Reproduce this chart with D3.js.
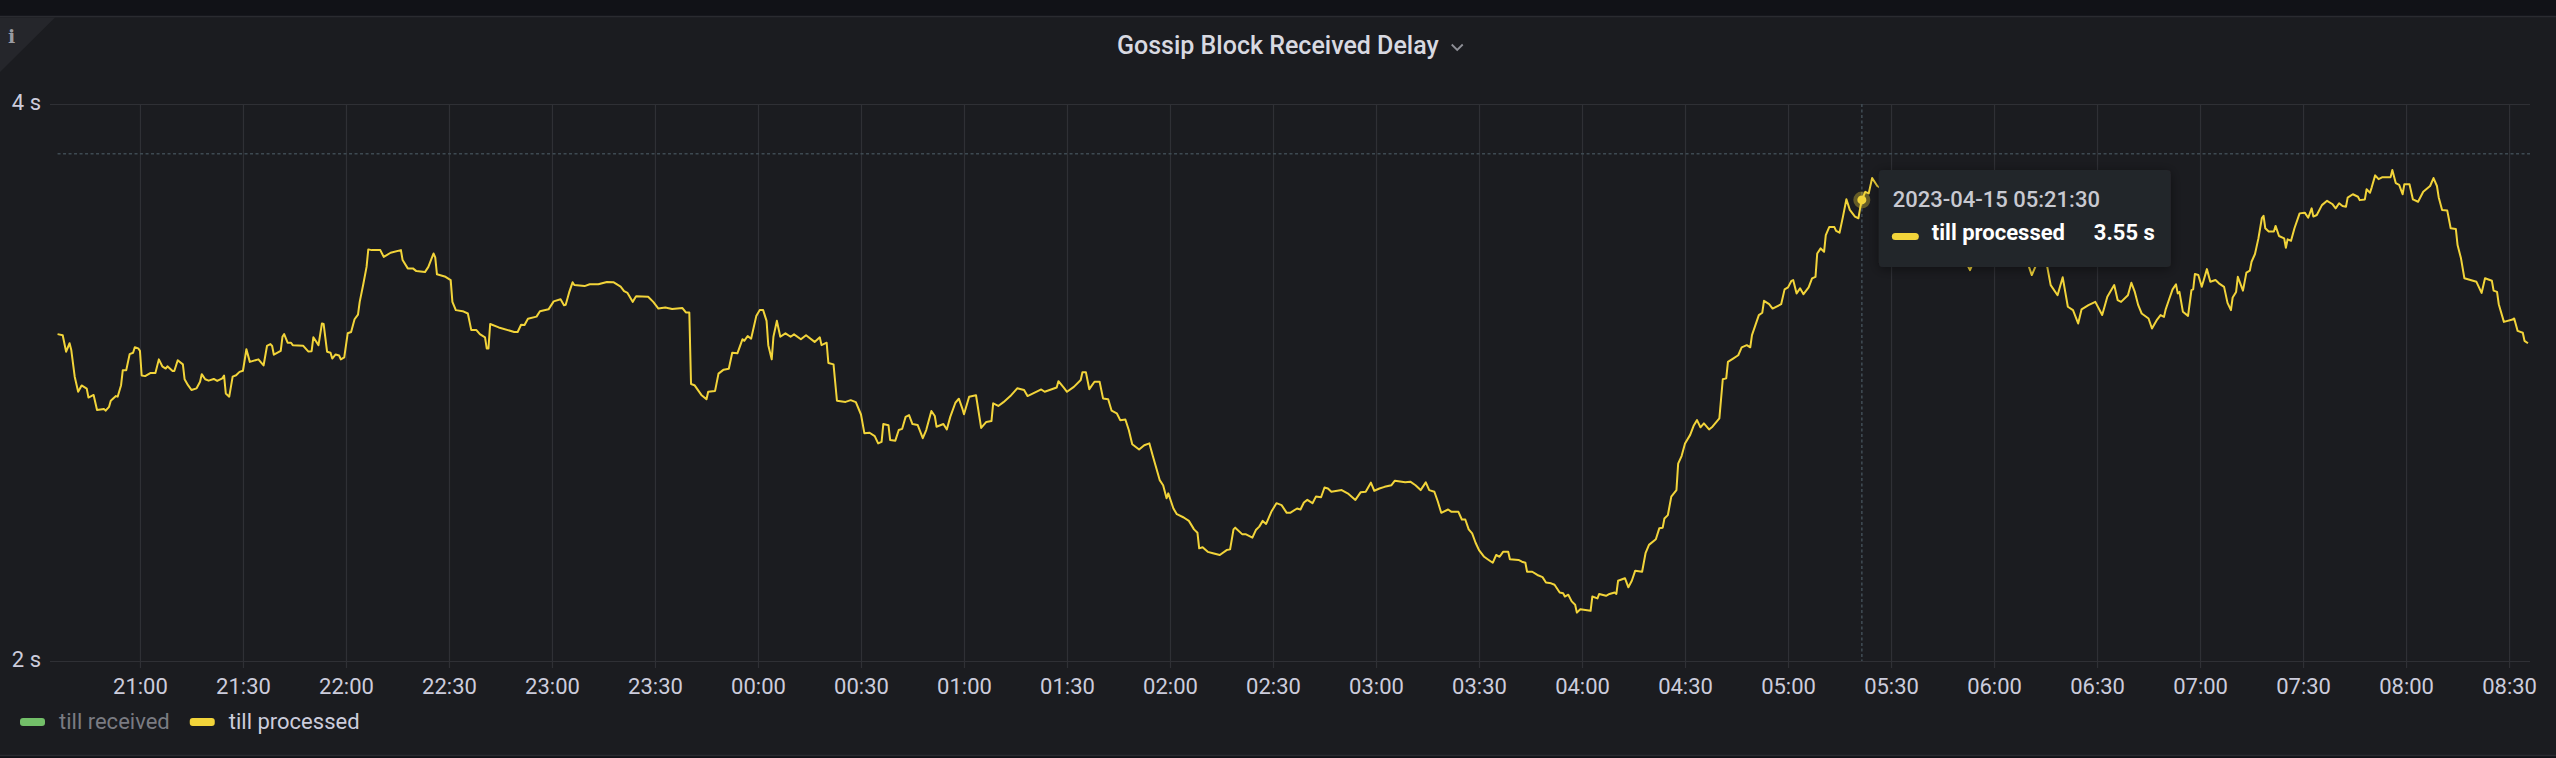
<!DOCTYPE html>
<html>
<head>
<meta charset="utf-8">
<title>Gossip Block Received Delay</title>
<script src="https://cdn.jsdelivr.net/npm/d3@7"></script>
<style>
    html, body { margin: 0; padding: 0; background: #111217; }
    svg { display: block; }
    text { font-family: Roboto, "Noto Sans", sans-serif; }
</style>
</head>
<body>
<svg id="chart" width="2556" height="758"></svg>
<script>
// ---- data ----
var panelTitle = 'Gossip Block Received Delay';
var seriesNames = ['till received', 'till processed'];
var hiddenSeries = ['till received'];
var unitSuffix = ' s';

// minutes are counted from 2023-04-14 20:30 (local dashboard time)
var rangeStart = new Date(2023, 3, 14, 20, 30);
var rangeMinutes = [3.8, 726.1];
var yTicks = [2, 4];

var sampleMinutes = [
    6, 7.5, 8.5, 9.5, 10, 11, 12, 13, 14.5, 15,
    16.5, 17.5, 19.5, 20, 21, 21.5, 23, 23.5, 24.5, 25,
    26, 27, 28, 28.5, 29.5, 30, 30.5, 31.5, 33, 34.5,
    35.5, 36.5, 37.5, 38, 39.5, 40, 41, 42.5, 43, 44,
    45, 46.5, 47.5, 48, 49, 50, 51.5, 52.5, 54, 54.5,
    55, 56, 57, 58, 59, 60, 61, 62, 64.5, 66,
    67, 68, 68.5, 69, 71, 71.5, 72, 73, 74, 74.5,
    77.5, 79, 80, 80.5, 82, 83, 83.5, 84.5, 85.5, 86,
    87, 88, 88.5, 89.5, 90.5, 91.5, 92.5, 93.5, 94, 95,
    96, 96.5, 97.5, 100, 101, 103, 106, 106.5, 108, 109.5,
    110.5, 113, 114, 115.5, 116, 116.5, 119, 120.5, 121, 122,
    124, 125.5, 126.5, 128, 129, 130.5, 131, 131.5, 132, 134.5,
    139, 140, 141, 142, 143, 145.5, 146.5, 149, 150.5, 152.5,
    153.5, 154, 155, 156, 156.5, 159.5, 161, 163.5, 166, 168,
    170, 171, 172, 173.5, 174.5, 178, 179.5, 181, 183, 185,
    188, 189, 190, 190.5, 191.5, 193.5, 195, 195.5, 197.5, 198.5,
    200, 201.5, 202.5, 204, 205.5, 206, 207, 208, 209.5, 210.5,
    211.5, 212.5, 213, 214, 214.5, 215.5, 216.5, 218, 219.5, 220.5,
    222.5, 224, 226.5, 228, 228.5, 230, 230.5, 232, 233, 235.5,
    237, 238.5, 240, 241, 242.5, 244, 245, 246, 246.5, 248,
    248.5, 250, 251, 252, 253, 254, 255, 256.5, 258, 259,
    260.5, 261.5, 262, 264, 265, 266, 267.5, 268.5, 269.5, 270,
    271.5, 273.5, 275, 276.5, 278, 278.5, 280, 281.5, 283.5, 285.5,
    287.5, 288.5, 292.5, 293.5, 297, 297.5, 299, 300, 302, 304,
    304.5, 305.5, 306.5, 308, 309.5, 310.5, 312, 313, 314.5, 315.5,
    317, 318, 319, 321, 322.5, 324, 325, 327, 328, 329,
    329.5, 331, 332, 334, 335.5, 337, 338, 338.5, 339.5, 341,
    342.5, 344.5, 346.5, 347.5, 348.5, 349, 351, 352, 354, 355,
    356, 357, 358, 359.5, 361, 362.5, 364, 365, 367, 368,
    369, 370, 371.5, 372.5, 374, 375, 376, 377, 380, 382,
    384, 385.5, 387, 388.5, 389.5, 391, 392.5, 394.5, 395.5, 398.5,
    400, 401.5, 403, 404.5, 405.5, 407, 408, 409, 411, 412,
    414, 415, 416, 417, 418, 419, 420, 421.5, 422.5, 424,
    425, 426, 427, 428.5, 429, 431.5, 432.5, 433.5, 434, 435.5,
    437, 438.5, 439.5, 441, 442, 443.5, 444.5, 445, 446, 447,
    448, 448.5, 449.5, 451, 452.5, 453, 454.5, 455, 457, 458,
    459.5, 460, 460.5, 462.5, 463.5, 464.5, 465.5, 467.5, 468.5, 469.5,
    471.5, 472.5, 473.5, 474, 475, 476, 477.5, 478, 479, 480,
    481.5, 482.5, 483.5, 484.5, 485.5, 487, 488, 490, 491, 492,
    492.5, 494, 495.5, 496.5, 498, 499, 499.5, 500.5, 501.5, 502.5,
    503, 504.5, 505.5, 508, 509, 510, 511, 511.5, 512.5, 513.5,
    514.5, 516, 517, 518, 518.5, 519.5, 520.5, 521, 522, 523.5,
    524, 525, 526, 527, 528, 529.5, 530.5, 531, 531.5, 532.5,
    533.5, 534.5, 536, 537, 539.5, 542.5, 547, 551.5, 555.5, 560,
    563, 565.5, 570.5, 574.5, 579, 581, 583.5, 585.5, 586.5, 588.5,
    590, 591.5, 593, 594.5, 595.5, 597.5, 599.5, 601.5, 603, 605,
    606, 607, 609, 610, 611, 612, 613, 615, 616, 617.5,
    618.5, 619.5, 620, 621, 622, 623, 623.5, 624, 625, 626.5,
    627.5, 628, 628.5, 629.5, 630.5, 631, 632, 633, 634.5, 635.5,
    637, 638, 639, 639.5, 640.5, 641, 642.5, 643.5, 644.5, 645,
    646, 647, 648, 648.5, 649, 650, 651.5, 652, 653, 654.5,
    655, 655.5, 656.5, 657.5, 659, 660.5, 661.5, 662.5, 663, 664,
    665.5, 667, 668.5, 669.5, 670.5, 671.5, 672.5, 673, 674.5, 676,
    676.5, 678, 678.5, 679.5, 680, 681, 682, 683, 685.5, 686,
    687, 688, 689, 689.5, 691, 692, 693.5, 695, 697, 698,
    699, 699.5, 700.5, 702, 703, 704.5, 705, 706, 707, 708,
    710.5, 712, 713, 715, 715.5, 716.5, 717, 718.5, 721, 721.5,
    722.5, 724, 724.5, 725.5
];

var tillProcessed = [
    3.004, 3.000, 2.939, 2.970, 2.945, 2.849, 2.796, 2.818, 2.807, 2.776,
    2.785, 2.733, 2.737, 2.731, 2.744, 2.765, 2.781, 2.779, 2.819, 2.872,
    2.872, 2.930, 2.935, 2.955, 2.951, 2.942, 2.853, 2.851, 2.862, 2.862,
    2.911, 2.886, 2.878, 2.886, 2.869, 2.869, 2.908, 2.893, 2.840, 2.819,
    2.802, 2.808, 2.831, 2.858, 2.840, 2.835, 2.841, 2.834, 2.843, 2.853,
    2.790, 2.779, 2.849, 2.854, 2.866, 2.870, 2.948, 2.902, 2.911, 2.889,
    2.960, 2.967, 2.960, 2.928, 2.942, 2.994, 3.004, 2.972, 2.972, 2.963,
    2.961, 2.940, 2.941, 2.992, 2.963, 3.044, 3.042, 2.939, 2.935, 2.914,
    2.929, 2.925, 2.911, 2.918, 3.007, 3.012, 3.060, 3.078, 3.127, 3.193,
    3.266, 3.338, 3.335, 3.335, 3.307, 3.324, 3.335, 3.294, 3.260, 3.260,
    3.249, 3.245, 3.266, 3.321, 3.305, 3.236, 3.226, 3.213, 3.127, 3.095,
    3.091, 3.082, 3.019, 3.019, 3.004, 2.992, 2.951, 2.951, 3.042, 3.029,
    3.012, 3.012, 3.039, 3.038, 3.062, 3.070, 3.091, 3.098, 3.129, 3.137,
    3.114, 3.116, 3.164, 3.204, 3.193, 3.189, 3.196, 3.196, 3.205, 3.204,
    3.187, 3.169, 3.162, 3.127, 3.149, 3.147, 3.127, 3.101, 3.105, 3.099,
    3.103, 3.086, 3.086, 2.823, 2.819, 2.785, 2.770, 2.796, 2.799, 2.860,
    2.874, 2.877, 2.935, 2.933, 2.985, 2.979, 2.997, 2.987, 3.072, 3.095,
    3.095, 3.054, 2.963, 2.911, 2.994, 3.054, 2.994, 3.007, 2.994, 3.003,
    2.985, 3.000, 2.975, 2.992, 2.963, 2.972, 2.898, 2.893, 2.765, 2.761,
    2.767, 2.760, 2.718, 2.655, 2.657, 2.646, 2.622, 2.627, 2.686, 2.682,
    2.633, 2.631, 2.666, 2.670, 2.710, 2.716, 2.686, 2.683, 2.639, 2.666,
    2.730, 2.713, 2.677, 2.686, 2.668, 2.710, 2.758, 2.772, 2.739, 2.719,
    2.779, 2.784, 2.673, 2.693, 2.696, 2.756, 2.747, 2.760, 2.781, 2.808,
    2.802, 2.781, 2.804, 2.796, 2.811, 2.833, 2.811, 2.796, 2.813, 2.837,
    2.865, 2.865, 2.805, 2.831, 2.831, 2.773, 2.770, 2.731, 2.722, 2.699,
    2.701, 2.666, 2.619, 2.602, 2.616, 2.622, 2.581, 2.505, 2.489, 2.449,
    2.464, 2.418, 2.401, 2.391, 2.381, 2.356, 2.346, 2.301, 2.304, 2.291,
    2.287, 2.282, 2.296, 2.298, 2.356, 2.361, 2.342, 2.342, 2.332, 2.354,
    2.364, 2.381, 2.372, 2.408, 2.434, 2.428, 2.405, 2.405, 2.418, 2.415,
    2.436, 2.444, 2.434, 2.454, 2.452, 2.482, 2.479, 2.469, 2.474, 2.462,
    2.444, 2.467, 2.469, 2.497, 2.472, 2.479, 2.484, 2.489, 2.503, 2.498,
    2.500, 2.489, 2.474, 2.498, 2.474, 2.469, 2.439, 2.405, 2.415, 2.408,
    2.408, 2.385, 2.385, 2.356, 2.344, 2.317, 2.296, 2.277, 2.270, 2.260,
    2.282, 2.277, 2.291, 2.291, 2.270, 2.268, 2.263, 2.260, 2.235, 2.235,
    2.226, 2.220, 2.205, 2.203, 2.199, 2.178, 2.176, 2.167, 2.172, 2.154,
    2.145, 2.124, 2.133, 2.131, 2.129, 2.167, 2.162, 2.174, 2.169, 2.174,
    2.178, 2.174, 2.210, 2.217, 2.192, 2.210, 2.238, 2.235, 2.287, 2.311,
    2.327, 2.359, 2.361, 2.388, 2.398, 2.454, 2.474, 2.557, 2.581, 2.622,
    2.650, 2.680, 2.699, 2.675, 2.688, 2.668, 2.677, 2.705, 2.840, 2.843,
    2.902, 2.914, 2.926, 2.955, 2.963, 2.955, 3.000, 3.038, 3.076, 3.085,
    3.131, 3.118, 3.101, 3.118, 3.176, 3.184, 3.210, 3.213, 3.160, 3.180,
    3.157, 3.184, 3.220, 3.226, 3.321, 3.342, 3.328, 3.398, 3.432, 3.432,
    3.416, 3.408, 3.477, 3.553, 3.506, 3.477, 3.470, 3.513, 3.550, 3.586,
    3.579, 3.648, 3.612, 3.602, 3.571, 3.527, 3.484, 3.441, 3.398, 3.335,
    3.253, 3.335, 3.377, 3.356, 3.314, 3.233, 3.314, 3.266, 3.193, 3.153,
    3.224, 3.108, 3.095, 3.044, 3.098, 3.114, 3.127, 3.076, 3.147, 3.193,
    3.134, 3.127, 3.153, 3.202, 3.166, 3.114, 3.082, 3.063, 3.025, 3.059,
    3.076, 3.069, 3.098, 3.137, 3.176, 3.196, 3.160, 3.166, 3.089, 3.073,
    3.173, 3.176, 3.237, 3.233, 3.186, 3.209, 3.257, 3.206, 3.213, 3.200,
    3.186, 3.123, 3.095, 3.144, 3.166, 3.226, 3.171, 3.243, 3.251, 3.287,
    3.319, 3.384, 3.470, 3.480, 3.427, 3.413, 3.413, 3.437, 3.394, 3.384,
    3.345, 3.380, 3.374, 3.427, 3.491, 3.494, 3.472, 3.513, 3.477, 3.484,
    3.527, 3.546, 3.532, 3.513, 3.535, 3.523, 3.520, 3.560, 3.575, 3.564,
    3.549, 3.552, 3.597, 3.582, 3.606, 3.660, 3.643, 3.651, 3.652, 3.685,
    3.625, 3.617, 3.575, 3.620, 3.620, 3.552, 3.542, 3.586, 3.612, 3.648,
    3.612, 3.562, 3.506, 3.503, 3.427, 3.424, 3.356, 3.301, 3.220, 3.216,
    3.206, 3.162, 3.220, 3.210, 3.171, 3.166, 3.118, 3.050, 3.059, 3.063,
    3.016, 3.009, 2.979, 2.970
];

// hovered sample and cursor height (value under the mouse)
var hoverMinute = 531.5;
var cursorValue = 3.76;

// ---- drawing ----
var width = 2556, height = 758;
var margin = {left: 50, right: 26, top: 104, bottom: 97};
var plotW = width - margin.left - margin.right;
var plotH = height - margin.top - margin.bottom;
var seriesColor = {'till received': '#73bf69', 'till processed': '#f2d43a'};
var gridColor = '#2f3035';
var textColor = '#ccccdc';

function minuteToDate(m) {
    return new Date(rangeStart.getTime() + m * 60000);
}

var dataset = sampleMinutes.map(function (m, i) {
    return {time: minuteToDate(m), value: tillProcessed[i]};
});

var x = d3.scaleTime()
    .domain(rangeMinutes.map(minuteToDate))
    .range([margin.left, margin.left + plotW]);

var y = d3.scaleLog().base(2)
    .domain([yTicks[0], yTicks[yTicks.length - 1]])
    .range([margin.top + plotH, margin.top]);

var svg = d3.select('#chart');

// page + panel
svg.append('rect')
    .attr('width', width).attr('height', height)
    .style('fill', '#111217');
svg.append('rect')
    .attr('x', -1).attr('y', 16.5)
    .attr('width', width + 2).attr('height', height - 19)
    .style('fill', '#1b1c20')
    .style('stroke', '#2a2b30')
    .style('stroke-width', 1.5);

// info corner
svg.append('path')
    .attr('d', 'M0,17.5L55,17.5L0,72Z')
    .style('fill', '#25262b');
svg.append('text')
    .attr('x', 11.5).attr('y', 43)
    .attr('text-anchor', 'middle')
    .style('font-family', '"DejaVu Serif", serif')
    .style('font-weight', 'bold')
    .style('font-size', '19px')
    .style('fill', '#9a9ba2')
    .text('i');

// title
var title = svg.append('text')
    .attr('x', 1117).attr('y', 54)
    .style('font-size', '25px')
    .style('font-weight', 500)
    .style('fill', '#d8d9e1')
    .text(panelTitle);
var titleEnd = 1117 + title.node().getComputedTextLength();
svg.append('path')
    .attr('d', 'M' + (titleEnd + 13) + ',44.5l5.5,5.5l5.5,-5.5')
    .style('fill', 'none')
    .style('stroke', '#8e8f96')
    .style('stroke-width', 1.8);

// vertical grid
svg.append('g')
    .attr('class', 'xgrid')
    .attr('transform', 'translate(0,' + (margin.top + plotH) + ')')
    .call(d3.axisBottom(x)
        .ticks(d3.timeMinute.every(30))
        .tickSize(-plotH)
        .tickFormat(''));

// x axis with labels
svg.append('g')
    .attr('class', 'xaxis')
    .attr('transform', 'translate(0,' + (margin.top + plotH) + ')')
    .call(d3.axisBottom(x)
        .ticks(d3.timeMinute.every(30))
        .tickSize(7)
        .tickPadding(10)
        .tickFormat(d3.timeFormat('%H:%M')));

// y axis + horizontal grid
svg.append('g')
    .attr('class', 'yaxis')
    .attr('transform', 'translate(' + margin.left + ',0)')
    .call(d3.axisLeft(y)
        .tickValues(yTicks)
        .tickSize(-plotW)
        .tickPadding(9)
        .tickFormat(function (d) { return d + unitSuffix; }));

svg.selectAll('.xgrid, .xaxis, .yaxis').select('.domain').remove();
svg.selectAll('.xgrid line, .xaxis line, .yaxis line')
    .style('stroke', gridColor)
    .style('stroke-width', 1.2);
svg.selectAll('.xaxis text, .yaxis text')
    .style('font-family', 'Roboto, sans-serif')
    .style('font-size', '22px')
    .style('fill', textColor);
svg.selectAll('.yaxis text').attr('dy', '0.27em');

// hover data
var hovered = dataset[sampleMinutes.indexOf(hoverMinute)];
var hx = x(hovered.time), hy = y(hovered.value);

// cursor crosshair
var cursorStyle = function (sel) {
    sel.style('stroke', '#3e4a52')
        .style('stroke-width', 1.6)
        .style('stroke-dasharray', '3,2.5');
};
svg.append('line')
    .attr('x1', x(dataset[0].time)).attr('x2', margin.left + plotW)
    .attr('y1', y(cursorValue)).attr('y2', y(cursorValue))
    .call(cursorStyle);
svg.append('line')
    .attr('x1', hx).attr('x2', hx)
    .attr('y1', margin.top).attr('y2', margin.top + plotH)
    .call(cursorStyle);

// series line
var line = d3.line()
    .x(function (d) { return x(d.time); })
    .y(function (d) { return y(d.value); });

svg.append('path')
    .datum(dataset)
    .attr('class', 'series')
    .attr('d', line)
    .style('fill', 'none')
    .style('stroke', seriesColor['till processed'])
    .style('stroke-width', 2)
    .style('stroke-linejoin', 'round');

// hovered point
svg.append('circle')
    .attr('cx', hx).attr('cy', hy).attr('r', 8.5)
    .style('fill', seriesColor['till processed'])
    .style('opacity', 0.35);
svg.append('circle')
    .attr('cx', hx).attr('cy', hy).attr('r', 4.5)
    .style('fill', seriesColor['till processed']);

// tooltip
var defs = svg.append('defs');
var shadow = defs.append('filter').attr('id', 'tipShadow')
    .attr('x', '-20%').attr('y', '-40%').attr('width', '140%').attr('height', '180%');
shadow.append('feDropShadow')
    .attr('dx', 0).attr('dy', 2).attr('stdDeviation', 6)
    .attr('flood-color', '#000').attr('flood-opacity', 0.45);

var tip = svg.append('g')
    .attr('transform', 'translate(' + (hx + 17) + ',' + (hy - 30) + ')');
tip.append('rect')
    .attr('width', 292).attr('height', 97).attr('rx', 4)
    .style('fill', '#24252a')
    .attr('filter', 'url(#tipShadow)');
tip.append('text')
    .attr('x', 14).attr('y', 37.5)
    .style('font-size', '22px')
    .style('font-weight', 500)
    .style('fill', '#c8c9d1')
    .text(d3.timeFormat('%Y-%m-%d %H:%M:%S')(hovered.time));
tip.append('rect')
    .attr('x', 13).attr('y', 63).attr('width', 27).attr('height', 7).attr('rx', 3.5)
    .style('fill', seriesColor['till processed']);
tip.append('text')
    .attr('x', 53).attr('y', 70.5)
    .style('font-size', '22px')
    .style('font-weight', 700)
    .style('fill', '#ffffff')
    .text(seriesNames[1]);
tip.append('text')
    .attr('x', 276).attr('y', 70.5)
    .attr('text-anchor', 'end')
    .style('font-size', '22px')
    .style('font-weight', 700)
    .style('fill', '#ffffff')
    .text(d3.format('.2f')(hovered.value) + unitSuffix);

// legend
var legendX = 20;
seriesNames.forEach(function (name) {
    var hidden = hiddenSeries.indexOf(name) >= 0;
    svg.append('rect')
        .attr('x', legendX).attr('y', 718).attr('width', 25).attr('height', 8).attr('rx', 3)
        .style('fill', seriesColor[name]);
    var t = svg.append('text')
        .attr('x', legendX + 39).attr('y', 729)
        .style('font-size', '22px')
        .style('fill', hidden ? '#7a7b82' : textColor)
        .text(name);
    legendX += 39 + t.node().getComputedTextLength() + 20;
});
</script>
</body>
</html>
